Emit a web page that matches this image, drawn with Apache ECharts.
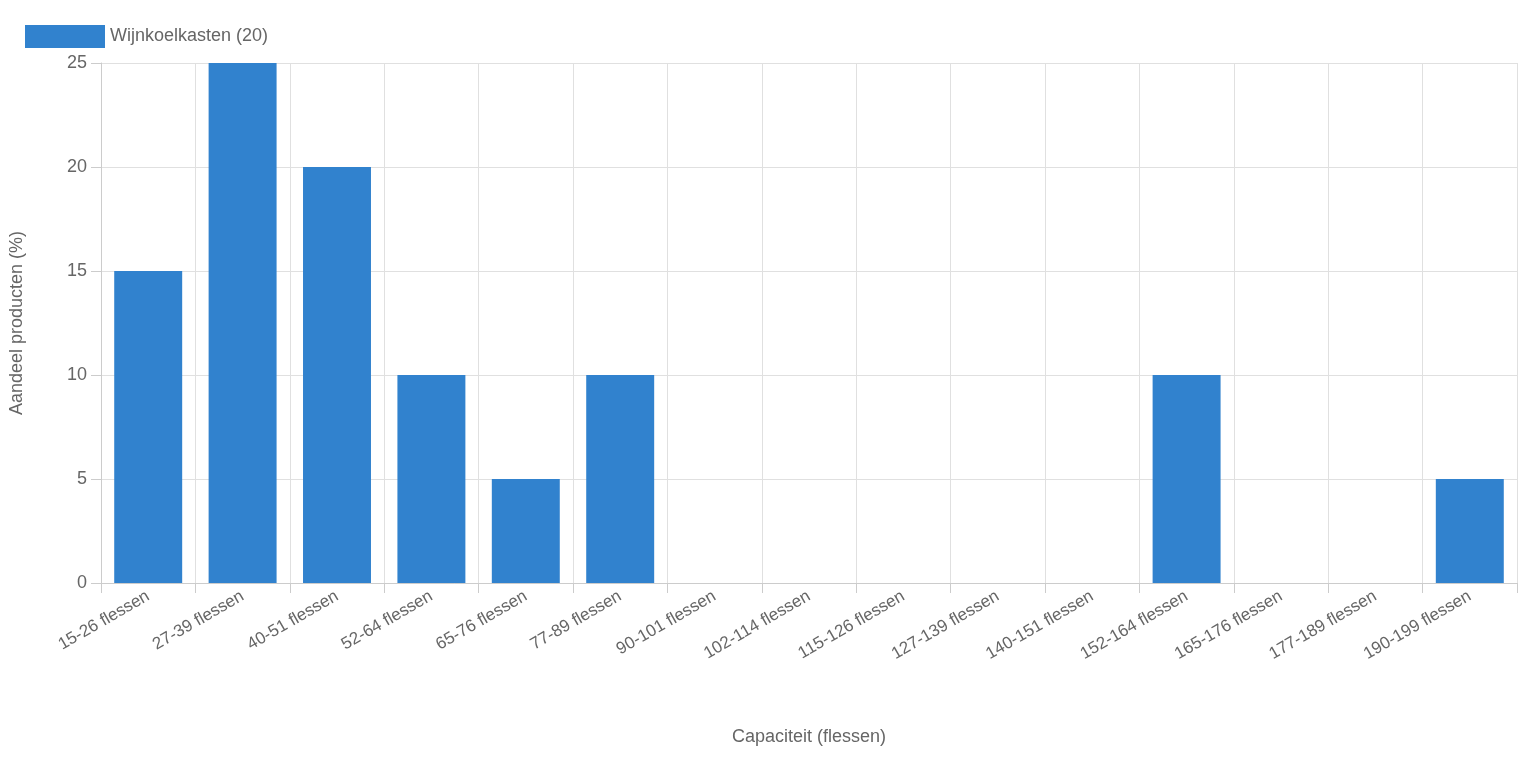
<!DOCTYPE html>
<html>
<head>
<meta charset="utf-8">
<script src="https://cdn.jsdelivr.net/npm/echarts@6/dist/echarts.min.js"></script>
<style>html,body{margin:0;padding:0;background:#fff}#chart{width:1518px;height:758px}</style>
</head>
<body>
<div id="chart"></div>
<script>
	// data
	var categories = ['15-26 flessen', '27-39 flessen', '40-51 flessen', '52-64 flessen', '65-76 flessen', '77-89 flessen', '90-101 flessen', '102-114 flessen', '115-126 flessen', '127-139 flessen', '140-151 flessen', '152-164 flessen', '165-176 flessen', '177-189 flessen', '190-199 flessen'];
	var shares = [15, 25, 20, 10, 5, 10, 0, 0, 0, 0, 0, 10, 0, 0, 5];
	var seriesName = 'Wijnkoelkasten (20)';

	var chart = echarts.init(document.getElementById('chart'));
	var txt = { color: '#666', fontFamily: 'Helvetica, Arial, "Liberation Sans", sans-serif' };
	chart.setOption({
		animation: false,
		legend: {
			left: 20, top: 20,
			itemWidth: 80, itemHeight: 23, itemGap: 12,
			icon: 'rect',
			textStyle: Object.assign({ fontSize: 18 }, txt),
			data: [seriesName]
		},
		grid: { left: 100, right: 1, top: 63, bottom: 175 },
		xAxis: {
			type: 'category',
			data: categories,
			name: 'Capaciteit (flessen)',
			nameLocation: 'middle',
			nameGap: 145,
			nameTextStyle: Object.assign({ fontSize: 18 }, txt),
			axisLine: { lineStyle: { color: '#ccc' } },
			axisTick: { show: true, length: 10, lineStyle: { color: '#ccc' } },
			splitLine: { show: true, lineStyle: { color: '#e0e0e0' } },
			axisLabel: Object.assign({ fontSize: 17, rotate: 30, margin: 12, interval: 0 }, txt)
		},
		yAxis: {
			type: 'value',
			min: 0, max: 25, interval: 5,
			name: 'Aandeel producten (%)',
			nameLocation: 'middle',
			nameGap: 75,
			nameTextStyle: Object.assign({ fontSize: 18 }, txt),
			axisLine: { show: true, lineStyle: { color: '#ccc' } },
			axisTick: { show: true, length: 10, lineStyle: { color: '#ccc' } },
			splitLine: { lineStyle: { color: '#e0e0e0' } },
			axisLabel: Object.assign({ fontSize: 18, margin: 14 }, txt)
		},
		series: [{
			name: seriesName,
			type: 'bar',
			data: shares,
			barCategoryGap: '28%',
			itemStyle: { color: '#3182ce' }
		}]
	});
</script>
</body>
</html>
